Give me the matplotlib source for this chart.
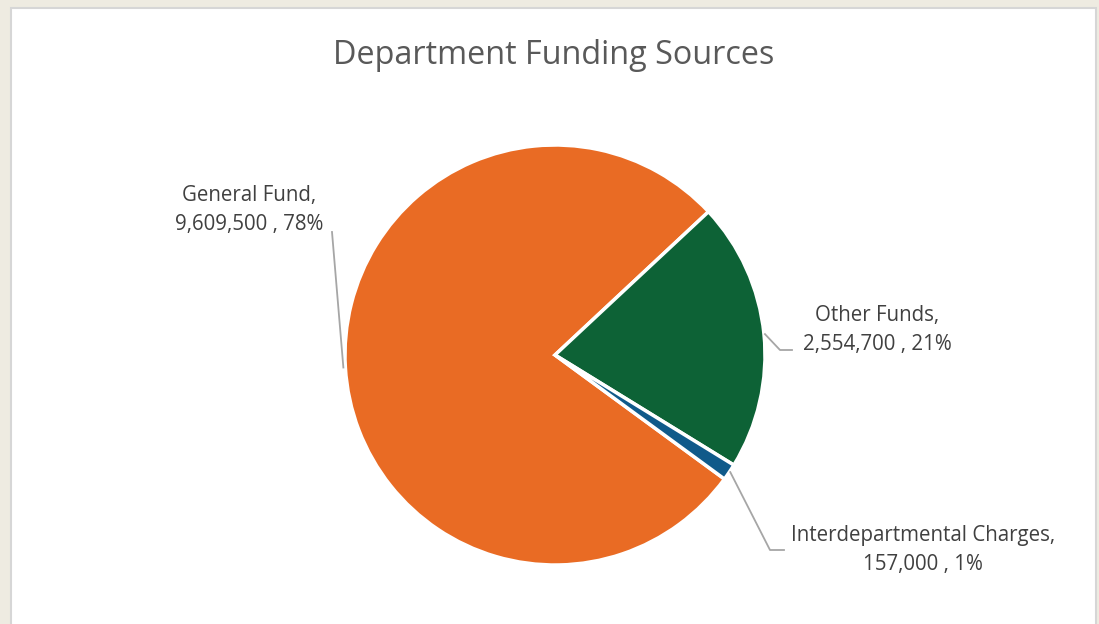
import numpy as np
import matplotlib.pyplot as plt
from matplotlib.patches import Rectangle

# funding sources
sources = ['General Fund', 'Other Funds', 'Interdepartmental Charges']
amounts = [9609500, 2554700, 157000]
colors = ['#E96B24', '#0D6236', '#105A8A']

W, H = 1099, 624
CX, CY, R = 555, H - 355, 210
START = -36.2

plt.rcParams['font.family'] = ['Open Sans', 'DejaVu Sans']

fig = plt.figure(figsize=(W / 100, H / 100), dpi=100, facecolor='#EEEBE1')
ax = fig.add_axes([0, 0, 1, 1])

# white chart area
ax.add_patch(Rectangle((11, -5), 1085, H - 8 + 5, facecolor='white',
                       edgecolor='#D6D6D6', linewidth=1.5, zorder=0))

wedges, _ = ax.pie(amounts, colors=colors, startangle=START,
                   counterclock=False, center=(CX, CY), radius=R,
                   wedgeprops=dict(edgecolor='white', linewidth=2.5),
                   frame=True)
ax.set_xlim(0, W)
ax.set_ylim(0, H)
ax.set_aspect('equal')
ax.axis('off')

total = sum(amounts)
# label centres and leader elbows
label_pos = [(249, H - 210), (877, H - 330), (923, H - 550)]
knee = [None, (780, H - 350), (770, H - 550)]
elbow = [None, (792, H - 350), (784, H - 550)]
for i, w in enumerate(wedges):
    mid = np.deg2rad((w.theta1 + w.theta2) / 2)
    px = CX + R * np.cos(mid)
    py = CY + R * np.sin(mid)
    pct = round(amounts[i] / total * 100)
    txt = f'{sources[i]},\n{amounts[i]:,} , {pct}%'
    ax.text(*label_pos[i], txt, ha='center', va='center', fontsize=14.8,
            color='#404040', linespacing=1.45)
    if i == 0:
        xs, ys = [px - 2, 332], [py, H - 232]
    else:
        xs = [px + 1, knee[i][0], elbow[i][0]]
        ys = [py, knee[i][1], elbow[i][1]]
    ax.plot(xs, ys, color='#A6A6A6', linewidth=1.3, zorder=1)

ax.text(W / 2 + 4, H - 55, 'Department Funding Sources', ha='center',
        va='center', fontsize=23.3, color='#595959')

fig.savefig('out.png', dpi=100, facecolor=fig.get_facecolor())
